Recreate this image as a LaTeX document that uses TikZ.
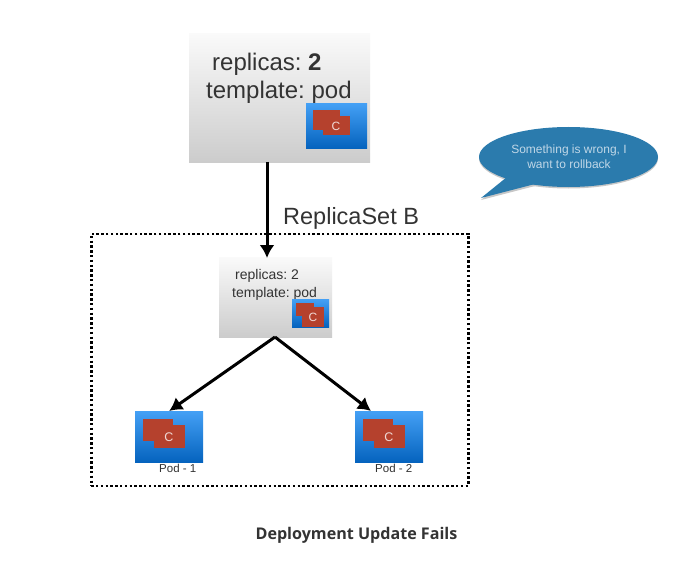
\documentclass[tikz,border=0pt]{standalone}
\usepackage{fontspec}
\setmainfont{Liberation Sans}
\newfontfamily\capfont{Open Sans}
\usetikzlibrary{arrows.meta,shadows,positioning,shapes.geometric}
\definecolor{txtgray}{HTML}{333333}
\definecolor{bubblecol}{HTML}{2B7BAD}
\definecolor{redc}{HTML}{B5412D}
\definecolor{bluetop}{HTML}{44A0F5}
\definecolor{bluebot}{HTML}{0563BE}
\tikzset{
  x=1pt,y=-1pt,
  spec/.style={inner sep=0pt,top color=white!96!gray,bottom color=black!20,
     draw=none,anchor=north west,general shadow={shadow xshift=0pt,shadow yshift=-1.2pt,fill=black!35}},
  bluebox/.style={inner sep=0pt,top color=bluetop,bottom color=bluebot,
     draw=none,anchor=north west,general shadow={shadow xshift=0pt,shadow yshift=-1pt,fill=black!25}},
  redbox/.style={inner sep=0pt,fill=redc,draw=none,anchor=north west},
  ctext/.style={text=white!80!redc,inner sep=0pt},
  lbl/.style={text=txtgray,inner sep=0pt,anchor=base west},
  conn/.style={draw=black,line width=3pt,-{Latex[length=13pt,width=15pt]}},
}
\begin{document}
\frenchspacing
\begin{tikzpicture}
\useasboundingbox (0,0) rectangle (679,572);
\fill[white] (0,0) rectangle (679,572);

% top spec box
\node[spec,minimum width=181pt,minimum height=129pt] (top) at (189,33) {};
\node[lbl,font=\fontsize{24}{28}\selectfont] (toprep) at (212,70.5) {replicas: \textbf{2}};
\node[lbl,font=\fontsize{24}{28}\selectfont] (toptmp) at (206,98.5) {template: pod};
\node[bluebox,minimum width=61pt,minimum height=45pt] (topblue) at (306,103) {};
\node[redbox,minimum width=27pt,minimum height=20pt] (topr1) at (313,110) {};
\node[redbox,minimum width=27pt,minimum height=19pt] (topr2) at (323,116) {};
\node[ctext,font=\fontsize{12}{14}\selectfont] (topc) at (336,126) {C};

% replica set label and dotted frame
\node[lbl,font=\fontsize{23.5}{28}\selectfont] (rslabel) at (283,224.5) {ReplicaSet B};
\node[draw=black,line width=2.5pt,dash pattern=on 2.4pt off 2.4pt,
  minimum width=377pt,minimum height=252pt,anchor=north west,inner sep=0pt] (frame) at (90,232.5) {};

% mid spec box
\node[spec,minimum width=113pt,minimum height=80pt] (mid) at (219,257) {};
\node[lbl,font=\fontsize{14}{16}\selectfont] (midrep) at (235,279) {replicas: 2};
\node[lbl,font=\fontsize{14}{16}\selectfont] (midtmp) at (232,297) {template: pod};
\node[bluebox,minimum width=37pt,minimum height=28pt] (midblue) at (292,299) {};
\node[redbox,minimum width=18pt,minimum height=13pt] (midr1) at (296,303) {};
\node[redbox,minimum width=22pt,minimum height=20pt] (midr2) at (302,307) {};
\node[ctext,font=\fontsize{12}{14}\selectfont] (midc) at (313,317) {C};

% pod 1
\node[bluebox,minimum width=68pt,minimum height=51pt] (podA) at (135,411) {};
\node[redbox,minimum width=30pt,minimum height=22pt] (podAr1) at (143,419) {};
\node[redbox,minimum width=31pt,minimum height=23pt] (podAr2) at (154,425) {};
\node[ctext,font=\fontsize{12.5}{14}\selectfont] (podAc) at (169,437) {C};
\node[lbl,font=\fontsize{11.5}{13}\selectfont] (podAl) at (159,472) {Pod - 1};

% pod 2
\node[bluebox,minimum width=68pt,minimum height=51pt] (podB) at (355,411) {};
\node[redbox,minimum width=30pt,minimum height=22pt] (podBr1) at (363,419) {};
\node[redbox,minimum width=31pt,minimum height=23pt] (podBr2) at (374,425) {};
\node[ctext,font=\fontsize{12.5}{14}\selectfont] (podBc) at (389,437) {C};
\node[lbl,font=\fontsize{11.5}{13}\selectfont] (podBl) at (375,472) {Pod - 2};

% connectors
\coordinate (topout) at (267,162);
\coordinate (midin) at (267,258);
\coordinate (midbot) at (275,337);
\coordinate (podBin) at (371,411);
\draw[conn] (topout) -- (midin);
\draw[conn] (midbot) -- (podA.north);
\draw[conn] (midbot) -- (podBin);

% bubble
\fill[black!22] (507,179) -- (481,200) -- (535,186) -- cycle;
\fill[black!22] (568.5,158.5) ellipse [x radius=89.5,y radius=30];
\fill[bubblecol] (507,177) -- (481,198) -- (535,184) -- cycle;
\node[ellipse,fill=bubblecol,minimum width=179pt,minimum height=60pt,inner sep=0pt] (bubble) at (568.5,157) {};
\node[text=white!70!bubblecol,font=\fontsize{12}{15}\selectfont,align=center,inner sep=0pt] (bubbletxt) at (569,156.5) {Something is wrong, I\\want to rollback};

% caption
\node[text=txtgray,font=\capfont\bfseries\fontsize{16.1}{19}\selectfont,inner sep=0pt] (caption) at (356.5,535.5) {Deployment Update Fails};
\end{tikzpicture}
\end{document}
